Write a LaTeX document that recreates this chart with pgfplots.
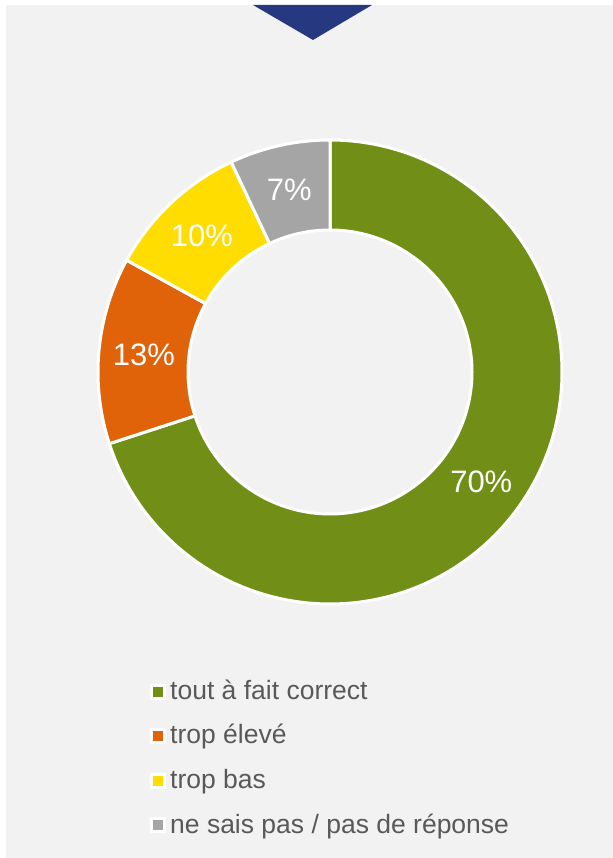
\documentclass[border=0pt]{standalone}
\usepackage{pgfplots}
\pgfplotsset{compat=1.18}
\usepackage{pgfplotstable}
\usepackage{fontspec}
\setmainfont{Liberation Sans}
\definecolor{bg}{HTML}{F2F2F2}
\definecolor{cgreen}{HTML}{718F17}
\definecolor{corange}{HTML}{E0630A}
\definecolor{cyellow}{HTML}{FFDD00}
\definecolor{cgray}{HTML}{A5A5A5}
\definecolor{navy}{HTML}{26387F}
\definecolor{txt}{HTML}{595959}

\pgfplotstableread{
idx value
0 70
1 13
2 10
3 7
}\donutdata
\pgfplotstablegetelem{0}{value}\of\donutdata\edef\vA{\pgfplotsretval}
\pgfplotstablegetelem{1}{value}\of\donutdata\edef\vB{\pgfplotsretval}
\pgfplotstablegetelem{2}{value}\of\donutdata\edef\vC{\pgfplotsretval}
\pgfplotstablegetelem{3}{value}\of\donutdata\edef\vD{\pgfplotsretval}
\pgfmathsetmacro{\aS}{90}
\pgfmathsetmacro{\aA}{\aS-3.6*\vA}
\pgfmathsetmacro{\aB}{\aA-3.6*\vB}
\pgfmathsetmacro{\aC}{\aB-3.6*\vC}
\pgfmathsetmacro{\aD}{\aC-3.6*\vD}
\def\cx{330}
\def\cy{486}
\def\R{232}
\def\r{142}
\def\rl{187}
\pgfmathsetmacro{\lAx}{\cx+\rl*cos((\aS+\aA)/2)}\pgfmathsetmacro{\lAy}{\cy+\rl*sin((\aS+\aA)/2)}
\pgfmathsetmacro{\lBx}{\cx+\rl*cos((\aA+\aB)/2)}\pgfmathsetmacro{\lBy}{\cy+\rl*sin((\aA+\aB)/2)}
\pgfmathsetmacro{\lCx}{\cx+\rl*cos((\aB+\aC)/2)}\pgfmathsetmacro{\lCy}{\cy+\rl*sin((\aB+\aC)/2)}
\pgfmathsetmacro{\lDx}{\cx+\rl*cos((\aC+\aD)/2)}\pgfmathsetmacro{\lDy}{\cy+\rl*sin((\aC+\aD)/2)}

\begin{document}
\begin{tikzpicture}
\begin{axis}[
  width=613bp, height=858bp, scale only axis,
  xmin=0, xmax=613, ymin=0, ymax=858,
  hide axis, clip=false,
]
% background
\addplot[fill=white, draw=none] coordinates {(0,0) (613,0) (613,858) (0,858)} -- cycle;
\addplot[fill=bg, draw=none] coordinates {(6,0) (613,0) (613,853) (6,853)} -- cycle;
% triangle
\addplot[fill=navy, draw=none] coordinates {(253,853) (372,853) (313,818)} -- cycle;
% donut wedges
\addplot[fill=cgreen, draw=white, line width=3bp, line join=round, domain=\aA:\aS, samples=180, variable=\t]
  ({\cx+\R*cos(\t)},{\cy+\R*sin(\t)}) -- (axis cs:\cx,\cy) -- cycle;
\addplot[fill=corange, draw=white, line width=3bp, line join=round, domain=\aB:\aA, samples=60, variable=\t]
  ({\cx+\R*cos(\t)},{\cy+\R*sin(\t)}) -- (axis cs:\cx,\cy) -- cycle;
\addplot[fill=cyellow, draw=white, line width=3bp, line join=round, domain=\aC:\aB, samples=50, variable=\t]
  ({\cx+\R*cos(\t)},{\cy+\R*sin(\t)}) -- (axis cs:\cx,\cy) -- cycle;
\addplot[fill=cgray, draw=white, line width=3bp, line join=round, domain=\aD:\aC, samples=40, variable=\t]
  ({\cx+\R*cos(\t)},{\cy+\R*sin(\t)}) -- (axis cs:\cx,\cy) -- cycle;
% hole
\addplot[fill=bg, draw=white, line width=3bp, domain=0:360, samples=200, variable=\t]
  ({\cx+\r*cos(\t)},{\cy+\r*sin(\t)}) -- cycle;
% labels
\node[text=white, font=\fontsize{31bp}{36bp}\selectfont] at (axis cs:\lAx,\lAy) {\vA\%};
\node[text=white, font=\fontsize{31bp}{36bp}\selectfont] at (axis cs:\lBx,\lBy) {\vB\%};
\node[text=white, font=\fontsize{31bp}{36bp}\selectfont] at (axis cs:\lCx,\lCy) {\vC\%};
\node[text=white, font=\fontsize{31bp}{36bp}\selectfont] at (axis cs:\lDx,\lDy) {\vD\%};
% legend
\addplot[only marks, mark=square*, mark size=6.5bp, mark options={fill=cgreen, draw=white, line width=3bp}] coordinates {(158,166)};
\addplot[only marks, mark=square*, mark size=6.5bp, mark options={fill=corange, draw=white, line width=3bp}] coordinates {(158,122)};
\addplot[only marks, mark=square*, mark size=6.5bp, mark options={fill=cyellow, draw=white, line width=3bp}] coordinates {(158,77)};
\addplot[only marks, mark=square*, mark size=6.5bp, mark options={fill=cgray, draw=white, line width=3bp}] coordinates {(158,33)};
\node[anchor=base west, text=txt, font=\fontsize{26.5bp}{30bp}\selectfont, inner sep=0pt] at (axis cs:170,158) {tout à fait correct};
\node[anchor=base west, text=txt, font=\fontsize{26.5bp}{30bp}\selectfont, inner sep=0pt] at (axis cs:170,114) {trop élevé};
\node[anchor=base west, text=txt, font=\fontsize{26.5bp}{30bp}\selectfont, inner sep=0pt] at (axis cs:170,69) {trop bas};
\node[anchor=base west, text=txt, font=\fontsize{26.5bp}{30bp}\selectfont, inner sep=0pt] at (axis cs:170,25) {ne sais pas / pas de réponse};
\end{axis}
\end{tikzpicture}
\end{document}
